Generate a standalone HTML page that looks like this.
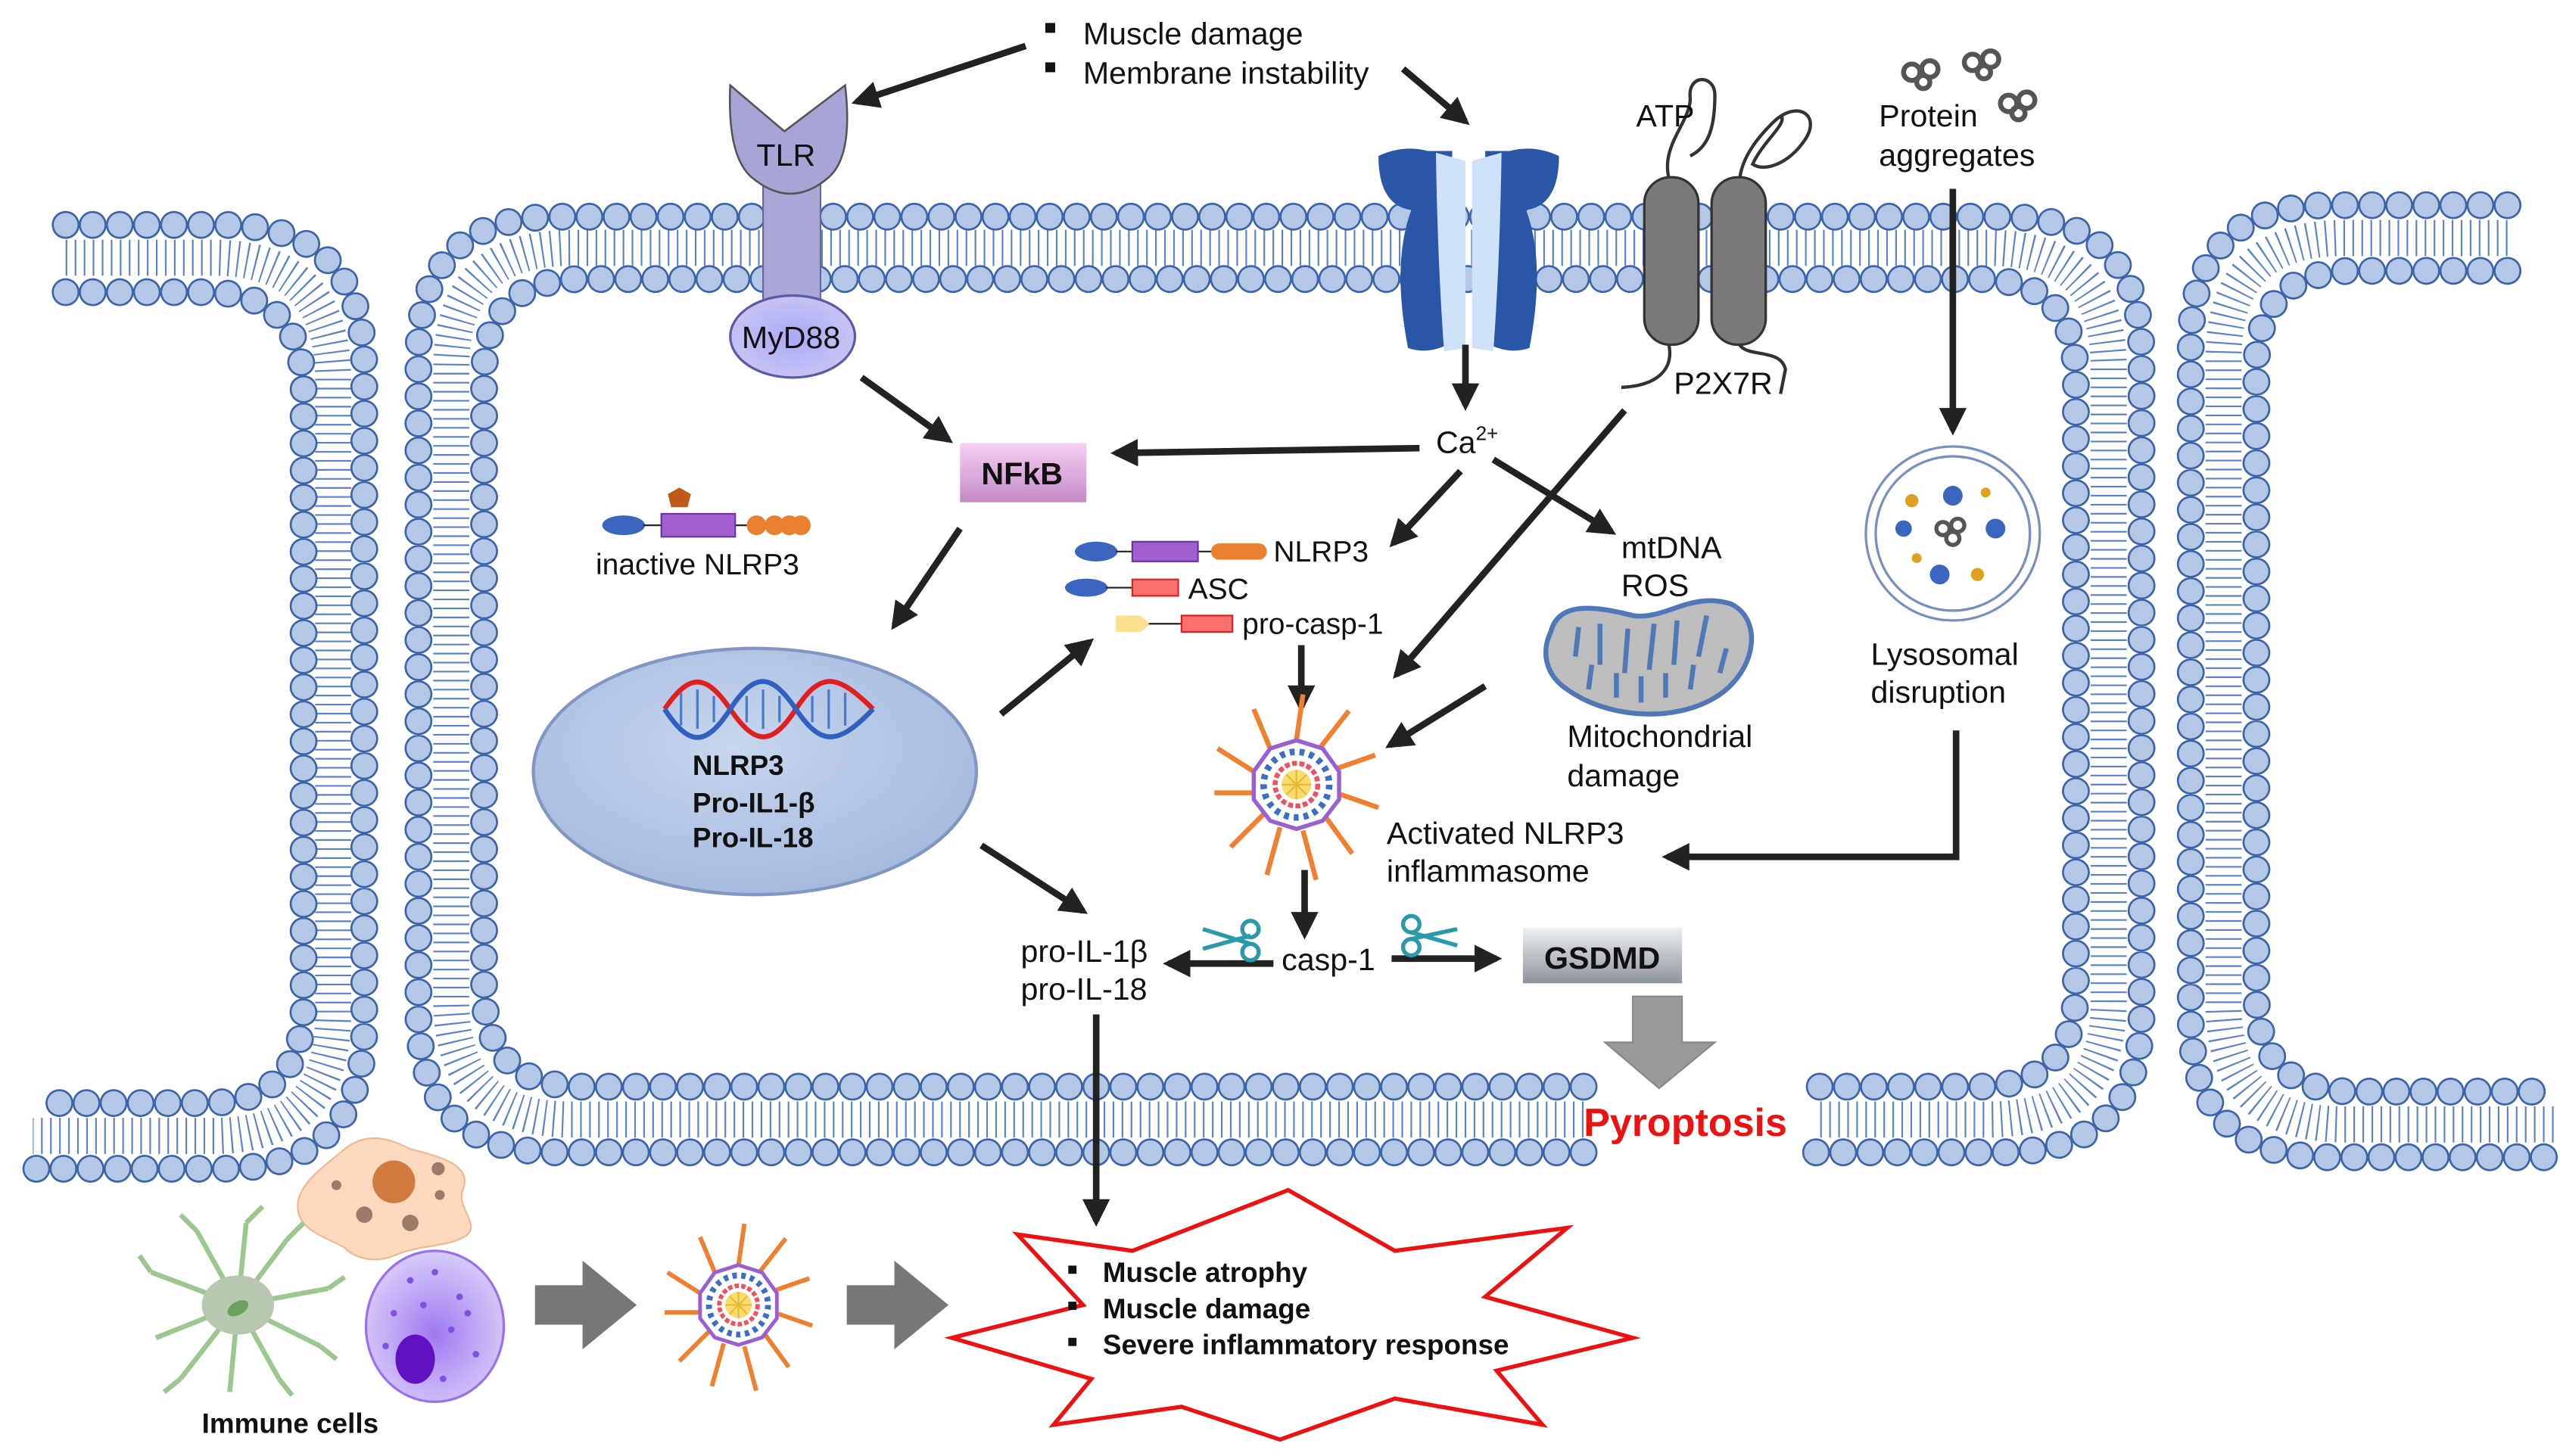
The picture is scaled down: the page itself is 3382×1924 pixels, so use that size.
<!DOCTYPE html>
<html><head><meta charset="utf-8"><style>
html,body{margin:0;padding:0;background:#fff}
svg{display:block}
text{font-family:"Liberation Sans",Arial,sans-serif;fill:#111}
.hb{fill:none;stroke:#3d64a8;stroke-width:17;stroke-dasharray:0 16.5;stroke-linecap:round}
.hf{fill:none;stroke:#b4c7e7;stroke-width:14.5;stroke-dasharray:0 16.5;stroke-linecap:round}
.tl{fill:none;stroke:#5c82c9;stroke-width:22;stroke-dasharray:1 4.5}
.ar{stroke:#222;stroke-width:4;fill:none;marker-end:url(#ah)}
.t{font-size:19px}
.b{font-weight:bold}
</style></head><body>
<svg width="3382" height="1924" viewBox="0 0 1560 887" preserveAspectRatio="none" xmlns="http://www.w3.org/2000/svg">
<defs>
<marker id="ah" viewBox="0 0 10 10" refX="8" refY="5" markerWidth="4.2" markerHeight="4.2" orient="auto"><path d="M0,0 L10,5 L0,10 z" fill="#222"/></marker>
<path id="Lo" d="M40,137 L135,137 Q222,137 222,225 L222,625 Q222,712 135,712 L20,712"/>
<path id="Li" d="M40,178 L125,178 Q185,178 185,238 L185,612 Q185,672 125,672 L20,672"/>
<path id="Lm" d="M40,157 L130,157 Q203,157 203,231 L203,618 Q203,692 130,692 L20,692"/>
<path id="Mo" d="M965,702 L340,702 Q255,702 255,617 L255,217 Q255,132 340,132 L1220,132 Q1305,132 1305,217 L1305,617 Q1305,702 1220,702 L1105,702"/>
<path id="Mi" d="M965,662 L355,662 Q295,662 295,602 L295,230 Q295,170 355,170 L1205,170 Q1265,170 1265,230 L1265,602 Q1265,662 1205,662 L1105,662"/>
<path id="Mm" d="M965,682 L348,682 Q275,682 275,610 L275,224 Q275,151 348,151 L1212,151 Q1285,151 1285,224 L1285,610 Q1285,682 1212,682 L1105,682"/>
<path id="Ro" d="M1528,125 L1420,125 Q1335,125 1335,210 L1335,620 Q1335,705 1420,705 L1557,705"/>
<path id="Ri" d="M1528,165 L1435,165 Q1375,165 1375,225 L1375,605 Q1375,665 1435,665 L1557,665"/>
<path id="Rm" d="M1528,145 L1428,145 Q1355,145 1355,218 L1355,612 Q1355,685 1428,685 L1557,685"/>
<g id="infl">
 <g stroke="#f08030" stroke-width="3">
  <line x1="0" y1="-27" x2="4" y2="-55"/><line x1="14" y1="-22" x2="32" y2="-45"/><line x1="25" y1="-10" x2="48" y2="-18"/>
  <line x1="27" y1="6" x2="50" y2="14"/><line x1="18" y1="20" x2="34" y2="42"/><line x1="4" y1="28" x2="12" y2="58"/>
  <line x1="-10" y1="26" x2="-18" y2="55"/><line x1="-20" y1="18" x2="-40" y2="38"/><line x1="-27" y1="5" x2="-50" y2="5"/>
  <line x1="-26" y1="-8" x2="-48" y2="-22"/><line x1="-16" y1="-22" x2="-26" y2="-46"/>
 </g>
 <polygon points="0,-27 16,-22 26,-8 26,9 16,22 0,27 -16,22 -26,9 -26,-8 -16,-22" fill="#fff" stroke="#9a5fd0" stroke-width="2.5"/>
 <circle r="20" fill="none" stroke="#3b6fc4" stroke-width="4" stroke-dasharray="3 3"/>
 <circle r="13" fill="none" stroke="#f05060" stroke-width="3" stroke-dasharray="3 1.5"/>
 <circle r="9" fill="#f8dc70"/>
 <g stroke="#e8b830" stroke-width="1"><line x1="-9" y1="0" x2="9" y2="0"/><line x1="0" y1="-9" x2="0" y2="9"/><line x1="-6" y1="-6" x2="6" y2="6"/><line x1="-6" y1="6" x2="6" y2="-6"/></g>
</g>
<radialGradient id="nuc" cx="0.45" cy="0.4" r="0.6"><stop offset="0" stop-color="#c8d6ee"/><stop offset="1" stop-color="#a6badf"/></radialGradient>
<linearGradient id="nf" x1="0" y1="0" x2="0" y2="1"><stop offset="0" stop-color="#f6d0f4"/><stop offset="1" stop-color="#c48ac6"/></linearGradient>
<linearGradient id="gs" x1="0" y1="0" x2="0" y2="1"><stop offset="0" stop-color="#eef0f4"/><stop offset="1" stop-color="#8e949c"/></linearGradient>
<radialGradient id="my" cx="0.5" cy="0.5" r="0.5"><stop offset="0" stop-color="#a9a8f8"/><stop offset="1" stop-color="#c6c4f4"/></radialGradient>
<radialGradient id="pc" cx="0.5" cy="0.55" r="0.55"><stop offset="0" stop-color="#a07af0"/><stop offset="1" stop-color="#d8cbfa"/></radialGradient>
</defs>

<!-- membranes -->
<g>
<use href="#Lm" class="tl"/><use href="#Mm" class="tl"/><use href="#Rm" class="tl"/>
<use href="#Lo" class="hb"/><use href="#Lo" class="hf"/><use href="#Li" class="hb"/><use href="#Li" class="hf"/>
<use href="#Mo" class="hb"/><use href="#Mo" class="hf"/><use href="#Mi" class="hb"/><use href="#Mi" class="hf"/>
<use href="#Ro" class="hb"/><use href="#Ro" class="hf"/><use href="#Ri" class="hb"/><use href="#Ri" class="hf"/>
</g>

<!-- top text -->
<rect x="637" y="14" width="6" height="6" fill="#111"/><rect x="637" y="38" width="6" height="6" fill="#111"/>
<text x="660" y="27" class="t">Muscle damage</text>
<text x="660" y="51" class="t">Membrane instability</text>
<line class="ar" x1="625" y1="28" x2="522" y2="62"/>
<line class="ar" x1="855" y1="42" x2="893" y2="74"/>

<!-- TLR -->
<rect x="465" y="105" width="35" height="85" fill="#aaa8d8" stroke="#6a689a" stroke-width="1"/>
<path d="M445,52 L478,80 L515,52 Q520,95 505,108 Q482,128 458,108 Q443,95 445,52 z" fill="#a7a5d6" stroke="#555" stroke-width="1.2"/>
<text x="461" y="101" class="t">TLR</text>
<ellipse cx="483" cy="205" rx="38" ry="25" fill="url(#my)" stroke="#5b5ba8" stroke-width="1.5"/>
<text x="452" y="212" class="t">MyD88</text>
<line class="ar" x1="525" y1="230" x2="578" y2="268"/>

<!-- NFkB -->
<rect x="585" y="270" width="77" height="36" fill="url(#nf)"/>
<text x="598" y="295" class="t b">NFkB</text>
<line class="ar" x1="865" y1="273" x2="680" y2="276"/>
<line class="ar" x1="585" y1="322" x2="545" y2="381"/>

<!-- inactive NLRP3 -->
<ellipse cx="380" cy="320" rx="13" ry="6" fill="#3a66c0"/>
<line x1="392" y1="320" x2="455" y2="320" stroke="#222"/>
<rect x="403" y="313" width="45" height="14" fill="#a060d0" stroke="#7030a0"/>
<g fill="#e88030"><circle cx="461" cy="320" r="6"/><circle cx="472" cy="320" r="6"/><circle cx="481" cy="320" r="6"/><circle cx="488" cy="320" r="6"/></g>
<polygon points="414,297 421,301 419,309 409,309 407,301" fill="#c05a18"/>
<text x="363" y="350" font-size="18">inactive NLRP3</text>

<!-- nucleus -->
<ellipse cx="460" cy="470" rx="135" ry="75" fill="url(#nuc)" stroke="#8296c4" stroke-width="2"/>
<path d="M405,432 C420,410 430,410 445,432 S470,455 485,432 S510,410 532,432" stroke="#e02020" stroke-width="3" fill="none"/>
<path d="M405,432 C420,455 430,455 445,432 S470,410 485,432 S510,455 532,432" stroke="#3060c0" stroke-width="3" fill="none"/>
<g stroke="#4a7ac8" stroke-width="1.5"><line x1="415" y1="422" x2="415" y2="442"/><line x1="425" y1="420" x2="425" y2="444"/><line x1="435" y1="424" x2="435" y2="440"/><line x1="455" y1="424" x2="455" y2="440"/><line x1="465" y1="420" x2="465" y2="444"/><line x1="475" y1="424" x2="475" y2="440"/><line x1="495" y1="424" x2="495" y2="440"/><line x1="505" y1="420" x2="505" y2="444"/><line x1="515" y1="422" x2="515" y2="442"/></g>
<text x="422" y="472" font-size="17" class="b">NLRP3</text>
<text x="422" y="495" font-size="17" class="b">Pro-IL1-β</text>
<text x="422" y="516" font-size="17" class="b">Pro-IL-18</text>
<line class="ar" x1="610" y1="435" x2="664" y2="391"/>
<line class="ar" x1="598" y1="515" x2="660" y2="555"/>

<!-- channel -->
<path d="M840,95 Q855,88 870,92 L885,92 L882,210 Q870,216 858,212 Q848,160 860,128 Q840,125 840,95 z" fill="#2a56a8"/>
<path d="M950,95 Q935,88 920,92 L905,92 L908,210 Q920,216 932,212 Q942,160 930,128 Q950,125 950,95 z" fill="#2a56a8"/>
<path d="M875,93 L893,98 L893,212 L880,214 Q876,160 875,93 z" fill="#cfe2fa"/>
<path d="M915,93 L897,98 L897,212 L910,214 Q914,160 915,93 z" fill="#cfe2fa"/>
<line class="ar" x1="893" y1="210" x2="893" y2="247"/>
<text x="875" y="276" class="t">Ca<tspan font-size="12" dy="-8">2+</tspan></text>
<line class="ar" x1="890" y1="287" x2="849" y2="331"/>
<line class="ar" x1="910" y1="280" x2="982" y2="324"/>

<!-- P2X7R -->
<path d="M1018,112 C1010,90 1030,75 1030,60 C1028,45 1045,45 1045,58 C1045,80 1040,90 1030,95" stroke="#333" stroke-width="2" fill="none"/>
<path d="M1060,112 C1060,95 1075,80 1080,75 C1095,60 1110,70 1100,85 C1090,100 1075,105 1068,100 C1075,85 1090,75 1085,70" stroke="#333" stroke-width="2" fill="none"/>
<rect x="1002" y="108" width="33" height="102" rx="16" fill="#7a7a7a" stroke="#333" stroke-width="1.5"/>
<rect x="1043" y="108" width="33" height="102" rx="16" fill="#7a7a7a" stroke="#333" stroke-width="1.5"/>
<path d="M1017,210 C1020,225 1010,235 988,236" stroke="#333" stroke-width="2" fill="none"/>
<path d="M1060,210 C1065,218 1085,212 1088,225 L1085,240" stroke="#333" stroke-width="2" fill="none"/>
<text x="997" y="77" class="t">ATP</text>
<text x="1020" y="240" class="t">P2X7R</text>
<line class="ar" x1="990" y1="250" x2="851" y2="411"/>

<!-- components -->
<ellipse cx="668" cy="336" rx="13" ry="6" fill="#3a66c0"/>
<line x1="680" y1="336" x2="742" y2="336" stroke="#222"/>
<rect x="690" y="330" width="40" height="12" fill="#a060d0" stroke="#7030a0"/>
<rect x="738" y="331" width="34" height="10" rx="5" fill="#e88030"/>
<text x="776" y="342" font-size="18">NLRP3</text>
<ellipse cx="662" cy="358" rx="13" ry="5.5" fill="#3a66c0"/>
<line x1="674" y1="358" x2="692" y2="358" stroke="#222"/>
<rect x="690" y="353" width="28" height="10" fill="#f87070" stroke="#e02020"/>
<text x="724" y="365" font-size="18">ASC</text>
<polygon points="680,375 695,375 701,380 695,385 680,385" fill="#fce090"/>
<line x1="700" y1="380" x2="722" y2="380" stroke="#222"/>
<rect x="720" y="375" width="31" height="10" fill="#f87070" stroke="#e02020"/>
<text x="757" y="386" font-size="18">pro-casp-1</text>
<line class="ar" x1="793" y1="393" x2="793" y2="431"/>

<use href="#infl" x="790" y="478"/>
<line class="ar" x1="905" y1="418" x2="847" y2="454"/>

<text x="988" y="340" class="t">mtDNA</text>
<text x="988" y="363" class="t">ROS</text>
<!-- mito -->
<path d="M945,385 C950,365 975,370 995,375 C1015,378 1030,360 1055,368 C1075,378 1070,410 1045,425 C1020,440 980,438 955,420 C940,410 940,395 945,385 z" fill="#bdbdbd" stroke="#5078b8" stroke-width="3"/>
<path d="M960,400 L962,382 M975,405 L975,380 M990,410 L992,383 M1005,408 L1008,380 M1020,405 L1022,378 M1035,400 L1040,375 M968,420 L970,405 M985,425 L985,410 M1000,428 L1000,412 M1015,425 L1015,410 M1030,420 L1032,405 M1048,410 L1052,395" stroke="#5078b8" stroke-width="3" fill="none"/>
<text x="955" y="455" class="t">Mitochondrial</text>
<text x="955" y="479" class="t">damage</text>
<text x="845" y="514" class="t">Activated NLRP3</text>
<text x="845" y="537" class="t">inflammasome</text>

<!-- protein aggregates & lysosome -->
<g fill="none" stroke="#555" stroke-width="3">
<circle cx="1165" cy="44" r="5"/><circle cx="1176" cy="42" r="5"/><circle cx="1172" cy="50" r="4"/>
<circle cx="1202" cy="38" r="5"/><circle cx="1213" cy="36" r="5"/><circle cx="1209" cy="44" r="4"/>
<circle cx="1224" cy="63" r="5"/><circle cx="1235" cy="61" r="5"/><circle cx="1230" cy="69" r="4"/>
</g>
<text x="1145" y="77" class="t">Protein</text>
<text x="1145" y="101" class="t">aggregates</text>
<line class="ar" x1="1190" y1="115" x2="1190" y2="262"/>
<circle cx="1190" cy="325" r="53" fill="#fff" stroke="#7890c0" stroke-width="1.5"/>
<circle cx="1190" cy="325" r="47" fill="#fff" stroke="#7890c0" stroke-width="1.5"/>
<g fill="#3a66c0"><circle cx="1190" cy="302" r="6"/><circle cx="1216" cy="322" r="6"/><circle cx="1182" cy="350" r="6"/><circle cx="1160" cy="322" r="5"/></g>
<g fill="#e0a020"><circle cx="1165" cy="305" r="4"/><circle cx="1210" cy="300" r="3"/><circle cx="1205" cy="350" r="4"/><circle cx="1168" cy="340" r="3"/></g>
<g fill="none" stroke="#555" stroke-width="2.5"><circle cx="1184" cy="322" r="4"/><circle cx="1193" cy="320" r="4"/><circle cx="1190" cy="328" r="4"/></g>
<text x="1140" y="405" class="t">Lysosomal</text>
<text x="1140" y="428" class="t">disruption</text>
<polyline points="1192,445 1192,522 1016,522" class="ar"/>

<!-- casp-1 -->
<line class="ar" x1="795" y1="530" x2="795" y2="569"/>
<text x="781" y="591" class="t">casp-1</text>
<line class="ar" x1="776" y1="587" x2="712" y2="587"/>
<line class="ar" x1="848" y1="584" x2="912" y2="584"/>
<text x="622" y="586" class="t">pro-IL-1β</text>
<text x="622" y="609" class="t">pro-IL-18</text>
<g stroke="#2a9aaa" stroke-width="2.5" fill="none">
<circle cx="762" cy="566" r="5"/><circle cx="762" cy="580" r="5"/><line x1="733" y1="566" x2="762" y2="575"/><line x1="733" y1="578" x2="762" y2="570"/>
<circle cx="860" cy="563" r="5"/><circle cx="860" cy="577" r="5"/><line x1="888" y1="566" x2="860" y2="572"/><line x1="888" y1="576" x2="860" y2="568"/>
</g>
<rect x="928" y="565" width="97" height="34" fill="url(#gs)"/>
<text x="941" y="590" class="t b">GSDMD</text>
<polygon points="995,607 1025,607 1025,635 1045,635 1011,663 978,635 995,635" fill="#9a9a9a" stroke="#888"/>
<text x="965" y="692" font-size="24" class="b" fill="#ee1111" style="fill:#ee1111">Pyroptosis</text>
<line class="ar" x1="668" y1="618" x2="668" y2="744"/>

<!-- star -->
<polygon points="620,752 690,762 785,725 850,762 955,748 905,790 995,815 912,835 940,868 850,852 780,877 720,857 642,868 665,840 580,815 660,795" fill="#fff" stroke="#ee1111" stroke-width="2.5"/>
<rect x="651" y="771" width="5" height="5" fill="#111"/><rect x="651" y="793" width="5" height="5" fill="#111"/><rect x="651" y="815" width="5" height="5" fill="#111"/>
<text x="672" y="781" font-size="17" class="b">Muscle atrophy</text>
<text x="672" y="803" font-size="17" class="b">Muscle damage</text>
<text x="672" y="825" font-size="17" class="b">Severe inflammatory response</text>

<!-- immune cells -->
<path d="M210,700 C225,688 240,695 250,700 C270,705 288,710 282,725 C278,735 292,745 285,752 C275,760 255,758 240,765 C228,770 215,766 210,760 C195,752 178,748 182,730 C186,718 198,710 210,700 z" fill="#fcd8bf" stroke="#f0b890"/>
<circle cx="240" cy="720" r="13" fill="#d07a40"/>
<g fill="#9a7a68"><circle cx="267" cy="712" r="4"/><circle cx="222" cy="740" r="5"/><circle cx="250" cy="745" r="5"/><circle cx="205" cy="722" r="3"/><circle cx="268" cy="728" r="3"/></g>
<g stroke="#9cc890" stroke-width="3" fill="none">
<path d="M145,795 L120,750 M145,795 L150,745 M145,795 L175,755 M145,795 L200,785 M145,795 L195,820 M145,795 L170,840 M145,795 L140,848 M145,795 L110,840 M145,795 L95,815 M145,795 L92,775 M120,750 L110,740 M150,745 L160,735 M175,755 L185,745 M195,820 L205,828 M110,840 L100,848 M170,840 L178,850 M92,775 L85,765 M200,785 L210,778"/>
</g>
<ellipse cx="145" cy="795" rx="22" ry="18" fill="#b8c8b0"/>
<ellipse cx="145" cy="797" rx="7" ry="4" fill="#6aa060" transform="rotate(-30 145 797)"/>
<ellipse cx="265" cy="808" rx="42" ry="46" fill="url(#pc)" stroke="#9a70f0" stroke-width="1.5"/>
<ellipse cx="253" cy="828" rx="12" ry="15" fill="#6010c0"/>
<g fill="#8050e0"><circle cx="250" cy="780" r="2"/><circle cx="265" cy="775" r="2"/><circle cx="280" cy="790" r="2"/><circle cx="240" cy="800" r="2"/><circle cx="275" cy="810" r="2"/><circle cx="290" cy="825" r="2"/><circle cx="270" cy="840" r="2"/><circle cx="235" cy="820" r="2"/><circle cx="285" cy="800" r="2"/><circle cx="258" cy="795" r="2"/></g>
<text x="123" y="873" font-size="17" class="b">Immune cells</text>
<polygon points="326,783 355,783 355,768 388,795 355,822 355,807 326,807" fill="#777"/>
<polygon points="516,783 545,783 545,768 578,795 545,822 545,807 516,807" fill="#777"/>
<use href="#infl" transform="translate(450,795) scale(0.9)"/>
</svg>
</body></html>
